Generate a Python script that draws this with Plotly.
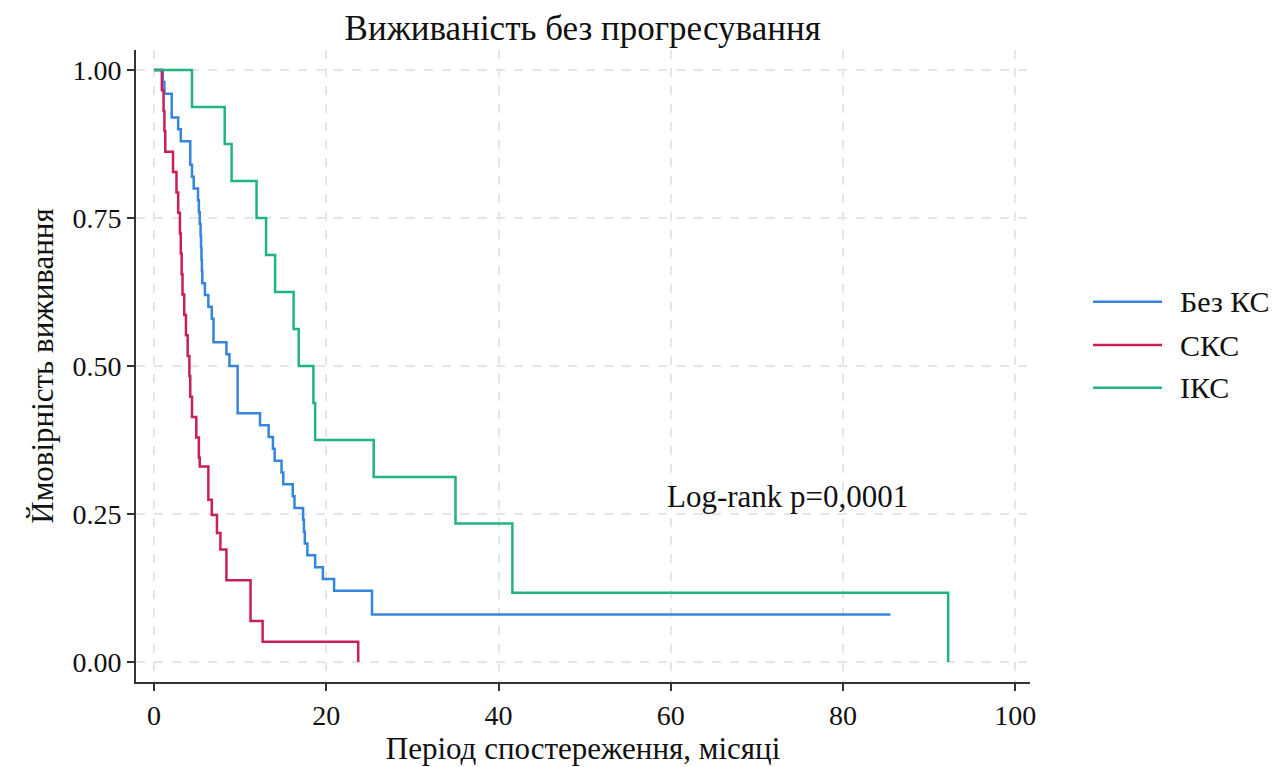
import plotly.graph_objects as go

# Kaplan-Meier step data (time in months, survival probability)
bez_ks_time = [0, 1.0, 1.2, 2.05, 2.8, 3.1, 4.2, 4.4, 4.6, 5.1, 5.2, 5.3, 5.4, 5.45, 5.5, 5.55, 5.6,
               5.9, 6.3, 6.7, 6.9, 8.4, 8.75, 9.7, 12.3, 13.3, 13.8, 14.0, 14.8, 15.0, 16.1, 16.3,
               17.3, 17.4, 17.5, 17.8, 18.7, 19.6, 20.9, 25.3, 85.5]
bez_ks_surv = [1.0, 0.98, 0.96, 0.92, 0.90, 0.88, 0.84, 0.82, 0.80, 0.78, 0.76, 0.74, 0.72, 0.70, 0.68,
               0.66, 0.64, 0.62, 0.60, 0.58, 0.54, 0.52, 0.50, 0.42, 0.40, 0.38, 0.36, 0.34, 0.32, 0.30,
               0.28, 0.26, 0.24, 0.22, 0.20, 0.18, 0.16, 0.14, 0.12, 0.08, 0.08]

sks_time = [0, 0.9, 1.1, 1.2, 1.3, 2.2, 2.6, 2.8, 3.0, 3.1, 3.2, 3.3, 3.5, 3.7, 3.9, 4.1, 4.2, 4.4,
            4.9, 5.2, 5.3, 6.3, 6.7, 7.3, 7.7, 8.4, 11.2, 12.6, 23.7]
sks_surv = [1.0, 0.966, 0.931, 0.897, 0.862, 0.828, 0.793, 0.759, 0.724, 0.690, 0.655, 0.621, 0.586,
            0.552, 0.517, 0.483, 0.448, 0.414, 0.379, 0.345, 0.330, 0.274, 0.248, 0.218, 0.190, 0.138,
            0.069, 0.034, 0.0]

iks_time = [0, 4.4, 8.2, 9.0, 11.9, 13.0, 14.05, 16.2, 16.8, 18.5, 18.7, 25.5, 35.0, 41.6, 92.2]
iks_surv = [1.0, 0.9375, 0.875, 0.8125, 0.75, 0.6875, 0.625, 0.5625, 0.5, 0.4375, 0.375, 0.3125,
            0.234, 0.117, 0.0]

series_names = ["Без КС", "СКС", "ІКС"]
series_colors = ["#3486DD", "#C81F5A", "#22B47F"]
x_ticks = [0, 20, 40, 60, 80, 100]
y_ticks = [0.0, 0.25, 0.5, 0.75, 1.0]
y_tick_labels = ["0.00", "0.25", "0.50", "0.75", "1.00"]

FONT = "Liberation Serif"
TXT = "#111111"

fig = go.Figure()
for name, t, s, c in zip(series_names, [bez_ks_time, sks_time, iks_time],
                         [bez_ks_surv, sks_surv, iks_surv], series_colors):
    fig.add_trace(go.Scatter(x=t, y=s, mode="lines", name=name, showlegend=False,
                             line=dict(color=c, width=2.5, shape="hv")))

fig.add_annotation(x=73.5, y=0.28, xref="x", yref="y", text="Log-rank p=0,0001",
                   showarrow=False, font=dict(family=FONT, size=31, color=TXT))

# legend drawn as line samples + labels (to reproduce the long legend keys)
legend_rows_y = [0.6017, 0.5332, 0.4657]
for name, c, ly in zip(series_names, series_colors, legend_rows_y):
    fig.add_shape(type="line", xref="paper", yref="paper", x0=1.0705, x1=1.1477, y0=ly, y1=ly,
                  line=dict(color=c, width=2.5))
    fig.add_annotation(x=1.1655, y=ly, xref="paper", yref="paper", text=name, showarrow=False,
                       xanchor="left", yanchor="middle", font=dict(family=FONT, size=30, color=TXT))

axis_common = dict(showline=True, linecolor="#333", linewidth=2, ticks="outside", ticklen=7,
                   tickwidth=1.5, tickcolor="#333", showgrid=True, gridcolor="#e6e6e6",
                   griddash="dash", gridwidth=1.5, zeroline=False, mirror=False, automargin=False,
                   tickfont=dict(family=FONT, size=28, color=TXT))

fig.update_layout(
    width=1275, height=767,
    margin=dict(l=136, r=245, t=50, b=85),
    paper_bgcolor="white", plot_bgcolor="white",
    showlegend=False,
    title=dict(text="Виживаність без прогресування", x=0.457, xanchor="center",
               y=0.9635, yanchor="middle", font=dict(family=FONT, size=35, color=TXT)),
    xaxis=dict(range=[-2.1, 101.7], tickvals=x_ticks,
               title=dict(text="Період спостереження, місяці", standoff=8,
                          font=dict(family=FONT, size=31, color=TXT)),
               **axis_common),
    yaxis=dict(range=[-0.034, 1.034], tickvals=y_ticks, ticktext=y_tick_labels,
               title=dict(text="Ймовірність виживання", standoff=10,
                          font=dict(family=FONT, size=31, color=TXT)),
               **axis_common),
)

fig.write_html("out.html")
